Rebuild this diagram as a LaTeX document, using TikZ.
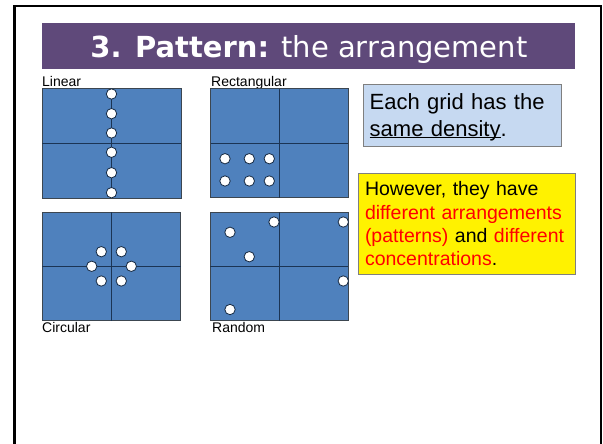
\documentclass[tikz,border=0pt]{standalone}
\usepackage{fontspec}
\setmainfont{Liberation Sans}
\newfontfamily\titlefont{DejaVu Sans}
\usepackage{tikz}
\usetikzlibrary{positioning}

\definecolor{barpurple}{HTML}{5F497A}
\definecolor{gridblue}{HTML}{4F81BD}
\definecolor{gridnavy}{HTML}{1B3454}
\definecolor{gridedge}{HTML}{3C4650}
\definecolor{notefill}{HTML}{C6D9F1}
\definecolor{noteedge}{HTML}{7F7F7F}
\definecolor{hotred}{HTML}{FF0000}
\newcommand\ulsmash[1]{\underline{\smash{#1}}}

\begin{document}
\begin{tikzpicture}[x=1pt,y=-1pt,
  gridbox/.style={fill=gridblue,draw=gridedge,line width=1pt},
  gridline/.style={draw=gridnavy,line width=0.9pt},
  dot/.style={fill=white,draw=gridnavy!80!black,line width=0.8pt},
  gridlabel/.style={anchor=base west,inner sep=0pt,font=\fontsize{14}{16}\selectfont}]
\useasboundingbox (0,0) rectangle (603,444);
% slide frame
\draw[line width=2.6pt] (14.5,446) -- (14.5,6) -- (601,6) -- (601,446);
% title bar
\fill[barpurple] (42,23) rectangle (575,69);
\node[anchor=base,inner sep=0pt,text=white,font=\titlefont\fontsize{29}{32}\selectfont] (title) at (309,57.5) {\textbf{3. Pattern:} the arrangement};

% linear
\node[gridlabel] (linlbl) at (42,86.7) {Linear};
\draw[gridbox] (42,89) rectangle (181,198);
\draw[gridline] (111.5,89) -- (111.5,198) (42,143) -- (181,143);
\foreach \y in {94,113.7,133,152.3,172.7,192.7}
  \draw[dot] (111.5,\y) circle (5.2);

% rectangular
\node[gridlabel] (reclbl) at (211,86.7) {Rectangular};
\draw[gridbox] (210.7,89) rectangle (348.3,197.5);
\draw[gridline] (279.3,89) -- (279.3,197.5) (210.7,143) -- (348.3,143);
\foreach \x in {225,249.3,269.3}
  \foreach \y in {158.7,181}
    \draw[dot] (\x,\y) circle (5.2);

% circular
\draw[gridbox] (42,212.3) rectangle (180.7,320.8);
\draw[gridline] (111.3,212.3) -- (111.3,320.8) (42,266.3) -- (180.7,266.3);
\foreach \x/\y in {101.3/251.7,121.3/251.7,91.7/266.3,131.3/266.3,101.3/281,121.3/281}
  \draw[dot] (\x,\y) circle (5.2);
\node[gridlabel] (cirlbl) at (42,332) {Circular};

% random
\draw[gridbox] (210.3,212.3) rectangle (348.3,320.8);
\draw[gridline] (279.3,212.3) -- (279.3,320.8) (210.3,266) -- (348.3,266);
\foreach \x/\y in {274/222,230/232.3,249.3/256.7,343.3/222,343.3/281,230/309.5}
  \draw[dot] (\x,\y) circle (5.2);
\node[gridlabel] (rndlbl) at (212,332) {Random};

% notes
\node[anchor=north west,draw=noteedge,fill=notefill,line width=0.8pt,minimum width=198pt,minimum height=61.7pt,
  text width=185pt,inner xsep=6.6pt,inner ysep=0pt,align=left,font=\fontsize{22}{27}\selectfont] (densnote) at (362.7,84.3)
  {Each grid has the\\\ulsmash{same density}.};
\node[anchor=north west,draw=noteedge,fill=yellow,line width=0.8pt,minimum width=217pt,minimum height=101.6pt,
  text width=204pt,inner xsep=6.6pt,inner ysep=0pt,align=left,font=\fontsize{19.5}{23.3}\selectfont] (patnote) at (358,172.7)
  {However, they have\\\textcolor{hotred}{different arrangements}\\\textcolor{hotred}{(patterns)} and \textcolor{hotred}{different}\\\textcolor{hotred}{concentrations}.};
\end{tikzpicture}
\end{document}
